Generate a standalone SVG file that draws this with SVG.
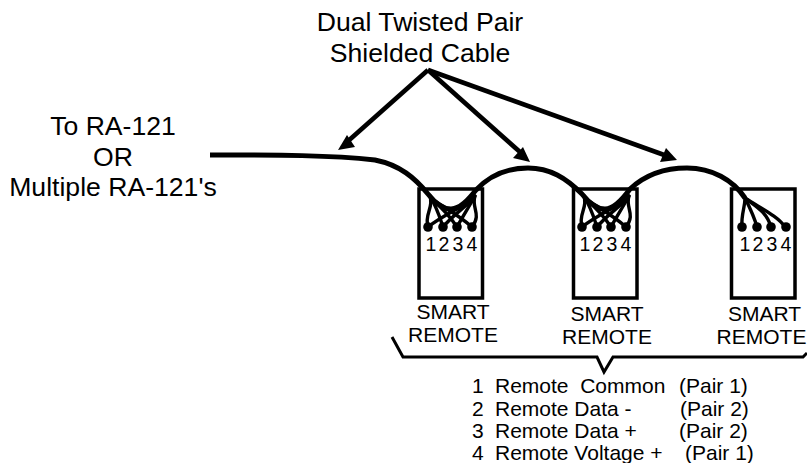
<svg xmlns="http://www.w3.org/2000/svg" width="807" height="463" viewBox="0 0 807 463">
<style>
text{font-family:"Liberation Sans",Arial,sans-serif;fill:#000;stroke:none}
.h{font-size:26.6px;text-anchor:middle}
.l{font-size:21px;text-anchor:middle}
.lg{font-size:21px;white-space:pre}
.n{font-size:19.5px;text-anchor:middle}
.box{fill:none;stroke:#000;stroke-width:3.5}
.w{fill:none;stroke:#000;stroke-width:3.4;stroke-linecap:round}
.cable{fill:none;stroke:#000;stroke-width:5}
.arr{fill:none;stroke:#000;stroke-width:4.6}
</style>
<defs>
<g id="dots"><circle cx="0" cy="0" r="4.8"/><circle cx="15" cy="0" r="4.8"/><circle cx="29" cy="0" r="4.8"/><circle cx="44" cy="0" r="4.8"/></g>
<g id="cross">
<path class="w" d="M430 196C434 208 424 214 428 227"/>
<path class="w" d="M430 196C438 210 440 218 443 227" />
<path class="w" d="M431 198C442 208 450 216 457 227"/>
<path class="w" d="M433 200C445 208 460 216 472 227"/>
<path class="w" d="M475 196C471 208 482 214 472 227"/>
<path class="w" d="M475 196C467 210 462 218 457 227"/>
<path class="w" d="M474 198C464 208 452 216 443 227"/>
<path class="w" d="M472 200C460 208 442 216 428 227"/>
</g>
</defs>
<g id="labels">
<text class="h" x="420" y="31">Dual Twisted Pair</text>
<text class="h" x="420" y="62">Shielded Cable</text>
</g>
<g id="source">
<text class="h" x="113" y="135">To RA-121</text>
<text class="h" x="113" y="166">OR</text>
<text class="h" x="113" y="196">Multiple RA-121's</text>
</g>
<g id="remote1">
<rect class="box" x="419" y="189" width="63.5" height="109"/>
<use href="#cross"/><use href="#dots" x="428" y="227"/>
<text class="n" x="431" y="251">1</text><text class="n" x="444" y="251">2</text><text class="n" x="458" y="251">3</text><text class="n" x="472" y="251">4</text>
<text class="l" x="453" y="319">SMART</text><text class="l" x="453" y="342">REMOTE</text>
</g>
<g id="remote2">
<rect class="box" x="573.5" y="189" width="63.5" height="109"/>
<use href="#cross" x="154"/><use href="#dots" x="582" y="227"/>
<text class="n" x="585" y="251">1</text><text class="n" x="598" y="251">2</text><text class="n" x="612" y="251">3</text><text class="n" x="626" y="251">4</text>
<text class="l" x="607" y="321">SMART</text><text class="l" x="607" y="344">REMOTE</text>
</g>
<g id="remote3">
<rect class="box" x="731.5" y="189" width="63.5" height="109"/>
<path class="w" d="M745 198C745 208 741 214 742 227"/>
<path class="w" d="M745 198C750 208 754 216 757 227"/>
<path class="w" d="M745 198C755 206 767 212 771 227"/>
<path class="w" d="M745 198C760 208 778 216 785 227"/>
<use href="#dots" x="742" y="227"/>
<text class="n" x="745" y="251">1</text><text class="n" x="758" y="251">2</text><text class="n" x="772" y="251">3</text><text class="n" x="786" y="251">4</text>
<text class="l" x="764.5" y="321">SMART</text><text class="l" x="761.5" y="344">REMOTE</text>
</g>
<g id="connectors">
<path class="cable" d="M210 155C280 155 330 155 375 160C400 165 415 178 428 194C436 204 444 209 451 209C460 209 468 200 476 190C490 175 507 168 528 168C550 168 566 178 582 194C590 204 598 209 605 209C613 209 622 200 630 189C645 175 665 168 687 168C712 168 733 180 745 198"/>
<path class="arr" d="M428 70L347 142"/>
<path class="arr" d="M428 70L520 152"/>
<path class="arr" d="M428 70L667 156"/>
<polygon points="338,150 347,135 355,147"/>
<polygon points="530,162 513,158 523,147"/>
<polygon points="677,160 660,162 666,148"/>
<path d="M392 337L403 357H597L604 372L613 357H803L807 353" fill="none" stroke="#000" stroke-width="3"/>
</g>
<g id="legend">
<text class="lg" x="472" y="393">1</text><text class="lg" x="495" y="393" xml:space="preserve">Remote  Common</text><text class="lg" x="679" y="393">(Pair 1)</text>
<text class="lg" x="472" y="416">2</text><text class="lg" x="495" y="416">Remote Data -</text><text class="lg" x="680" y="416">(Pair 2)</text>
<text class="lg" x="472" y="438">3</text><text class="lg" x="495" y="438">Remote Data +</text><text class="lg" x="679" y="438">(Pair 2)</text>
<text class="lg" x="472" y="460">4</text><text class="lg" x="495" y="460">Remote Voltage +</text><text class="lg" x="685" y="460">(Pair 1)</text>
</g>
</svg>
